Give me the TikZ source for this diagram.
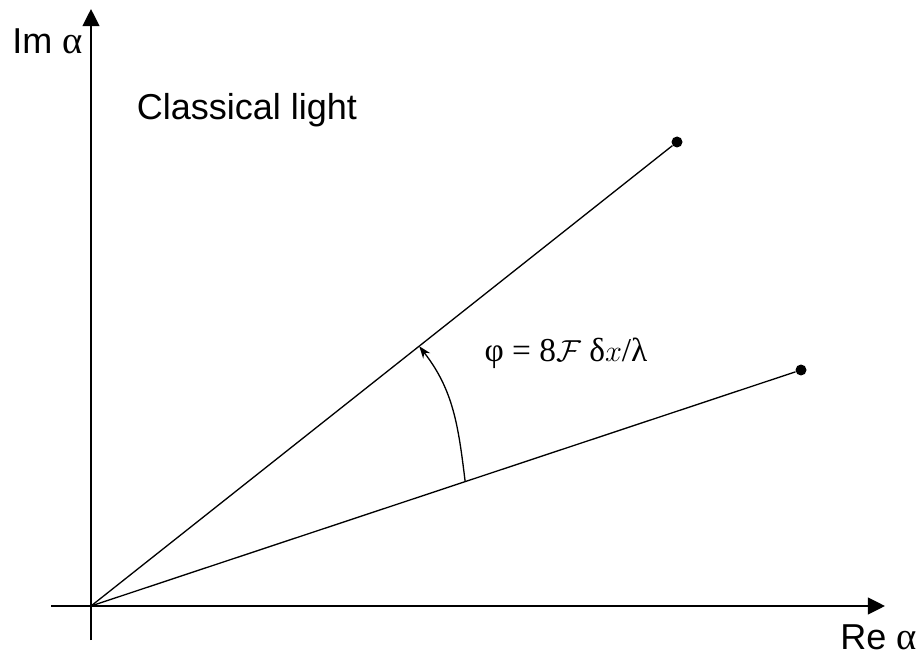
\documentclass[tikz,border=0pt]{standalone}
\usepackage{fontspec}
\setmainfont{Liberation Sans}
\newfontfamily\greekfont{Liberation Serif}
\usetikzlibrary{positioning, arrows.meta, calc}
\newcommand{\galpha}{{\greekfont\fontsize{22}{24}\selectfont α}}

\begin{document}
\begin{tikzpicture}[x=0.02cm, y=-0.02cm,
    every node/.style={font=\fontsize{20.5}{24}\selectfont},
    axis/.style={line width=1.25pt, -{Triangle[length=9.8pt, width=9.6pt]}},
    ray/.style={line width=0.75pt},
    dot/.style={circle, fill, inner sep=0pt, minimum size=0.22cm}]
    \useasboundingbox (0,0) rectangle (920,655);

    % axes
    \coordinate (o) at (91,606);
    \coordinate (xl) at (51,606);
    \coordinate (xr) at (885,606);
    \coordinate (yb) at (91,640);
    \coordinate (yt) at (91,9);
    \draw[axis] (xl) -- (xr);
    \draw[axis] (yb) -- (yt);
    \node[anchor=west, inner sep=0pt] (imlab) at (12,41) {Im \galpha};
    \node[anchor=east, inner sep=0pt] (relab) at (917,637) {Re \galpha};
    \node (title) at (247,110) {Classical light};

    % the two phasors
    \node[dot] (p1) at (677,142) {};
    \node[dot] (p2) at (801,370) {};
    \draw[ray] (o) -- (p1);
    \draw[ray] (o) -- (p2);

    % phase angle
    \coordinate (a1) at ($(o)!0.527!(p2)$);
    \coordinate (a2) at ($(o)!0.56!(p1)$);
    \draw[ray, -{Stealth[length=7pt, width=5pt]}] (a1) to[out=97, in=-52] (a2);
    \node[font=\greekfont\fontsize{19}{22}\selectfont] (phase) at (566,353) {φ = 8$\mathcal{F}$ δ$x$/λ};
\end{tikzpicture}
\end{document}
